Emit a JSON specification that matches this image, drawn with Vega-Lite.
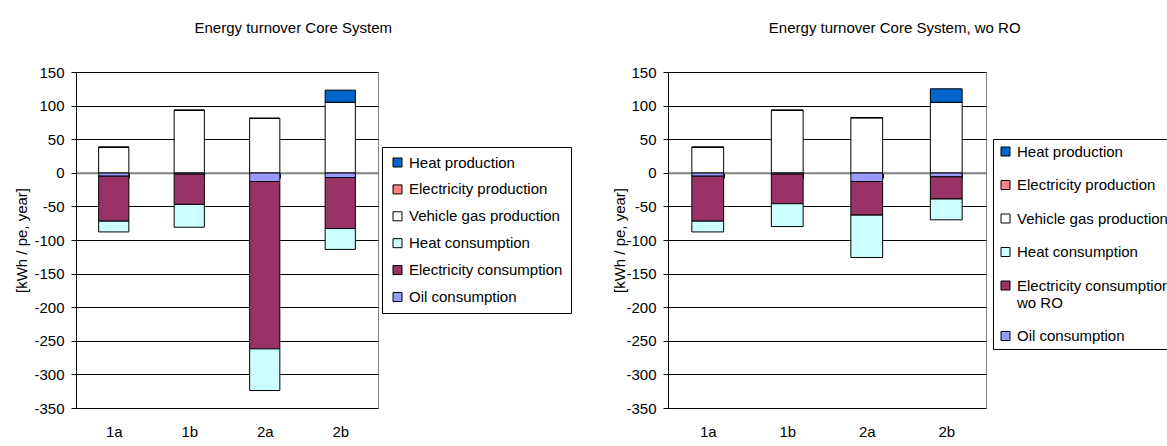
{
  "$schema": "https://vega.github.io/schema/vega-lite/v6.json",
  "padding": {"left": 14, "top": 20, "right": 0, "bottom": 0},
  "background": "white",
  "spacing": 40,
  "config": {
    "font": "Liberation Sans",
    "view": {"stroke": "#808080", "strokeWidth": 1},
    "axis": {"labelColor": "black", "titleColor": "black", "labelFontSize": 15, "titleFontSize": 15, "titleFontWeight": "normal"},
    "title": {"fontSize": 15, "fontWeight": "normal", "color": "black", "anchor": "middle", "frame": "bounds", "offset": 29},
    "legend": {"labelColor": "black", "labelFontSize": 15}
  },
  "datasets": {
    "core": [
      {"scenario": "1a", "series": "Oil consumption", "value": -5, "ord": 1},
      {"scenario": "1a", "series": "Electricity consumption", "value": -67, "ord": 2},
      {"scenario": "1a", "series": "Heat consumption", "value": -16, "ord": 3},
      {"scenario": "1a", "series": "Vehicle gas production", "value": 38, "ord": 4},
      {"scenario": "1a", "series": "Electricity production", "value": 0, "ord": 5},
      {"scenario": "1a", "series": "Heat production", "value": 0, "ord": 6},
      {"scenario": "1b", "series": "Oil consumption", "value": -2, "ord": 1},
      {"scenario": "1b", "series": "Electricity consumption", "value": -45, "ord": 2},
      {"scenario": "1b", "series": "Heat consumption", "value": -34, "ord": 3},
      {"scenario": "1b", "series": "Vehicle gas production", "value": 93, "ord": 4},
      {"scenario": "1b", "series": "Electricity production", "value": 0, "ord": 5},
      {"scenario": "1b", "series": "Heat production", "value": 0, "ord": 6},
      {"scenario": "2a", "series": "Oil consumption", "value": -13, "ord": 1},
      {"scenario": "2a", "series": "Electricity consumption", "value": -249, "ord": 2},
      {"scenario": "2a", "series": "Heat consumption", "value": -62, "ord": 3},
      {"scenario": "2a", "series": "Vehicle gas production", "value": 81, "ord": 4},
      {"scenario": "2a", "series": "Electricity production", "value": 0, "ord": 5},
      {"scenario": "2a", "series": "Heat production", "value": 0, "ord": 6},
      {"scenario": "2b", "series": "Oil consumption", "value": -7, "ord": 1},
      {"scenario": "2b", "series": "Electricity consumption", "value": -76, "ord": 2},
      {"scenario": "2b", "series": "Heat consumption", "value": -31, "ord": 3},
      {"scenario": "2b", "series": "Vehicle gas production", "value": 105, "ord": 4},
      {"scenario": "2b", "series": "Electricity production", "value": 0, "ord": 5},
      {"scenario": "2b", "series": "Heat production", "value": 18, "ord": 6}
    ],
    "woro": [
      {"scenario": "1a", "series": "Oil consumption", "value": -5, "ord": 1},
      {"scenario": "1a", "series": "Electricity consumption wo RO", "value": -67, "ord": 2},
      {"scenario": "1a", "series": "Heat consumption", "value": -16, "ord": 3},
      {"scenario": "1a", "series": "Vehicle gas production", "value": 38, "ord": 4},
      {"scenario": "1a", "series": "Electricity production", "value": 0, "ord": 5},
      {"scenario": "1a", "series": "Heat production", "value": 0, "ord": 6},
      {"scenario": "1b", "series": "Oil consumption", "value": -2, "ord": 1},
      {"scenario": "1b", "series": "Electricity consumption wo RO", "value": -44, "ord": 2},
      {"scenario": "1b", "series": "Heat consumption", "value": -34, "ord": 3},
      {"scenario": "1b", "series": "Vehicle gas production", "value": 93, "ord": 4},
      {"scenario": "1b", "series": "Electricity production", "value": 0, "ord": 5},
      {"scenario": "1b", "series": "Heat production", "value": 0, "ord": 6},
      {"scenario": "2a", "series": "Oil consumption", "value": -13, "ord": 1},
      {"scenario": "2a", "series": "Electricity consumption wo RO", "value": -50, "ord": 2},
      {"scenario": "2a", "series": "Heat consumption", "value": -63, "ord": 3},
      {"scenario": "2a", "series": "Vehicle gas production", "value": 82, "ord": 4},
      {"scenario": "2a", "series": "Electricity production", "value": 0, "ord": 5},
      {"scenario": "2a", "series": "Heat production", "value": 0, "ord": 6},
      {"scenario": "2b", "series": "Oil consumption", "value": -6, "ord": 1},
      {"scenario": "2b", "series": "Electricity consumption wo RO", "value": -33, "ord": 2},
      {"scenario": "2b", "series": "Heat consumption", "value": -31, "ord": 3},
      {"scenario": "2b", "series": "Vehicle gas production", "value": 105, "ord": 4},
      {"scenario": "2b", "series": "Electricity production", "value": 0, "ord": 5},
      {"scenario": "2b", "series": "Heat production", "value": 20, "ord": 6}
    ]
  },
  "resolve": {
    "scale": {"x": "independent", "y": "independent", "color": "independent"},
    "legend": {"color": "independent"}
  },
  "hconcat": [
    {
      "title": "Energy turnover Core System",
      "width": 302,
      "height": 336,
      "data": {"name": "core"},
      "mark": {"type": "bar", "stroke": "black", "strokeWidth": 1},
      "encoding": {
        "x": {
          "field": "scenario", "type": "nominal", "sort": ["1a", "1b", "2a", "2b"],
          "scale": {"paddingInner": 0.6, "paddingOuter": 0.3},
          "axis": {"title": null, "labelAngle": 0, "orient": "bottom", "offset": -235.2, "domain": true, "domainColor": "#808080", "domainWidth": 2, "ticks": true, "tickBand": "extent", "tickColor": "black", "tickSize": 5, "tickWidth": 1, "labelPadding": 247, "grid": false}
        },
        "y": {
          "field": "value", "type": "quantitative", "stack": "zero",
          "scale": {"domain": [-350, 150], "nice": false},
          "axis": {"title": "[kWh / pe, year]", "values": [-350, -300, -250, -200, -150, -100, -50, 0, 50, 100, 150], "labelExpr": "toString(datum.value)", "grid": true, "gridColor": "black", "gridWidth": 1, "domainColor": "black", "tickColor": "black", "tickSize": 5, "labelPadding": 7, "titlePadding": 4}
        },
        "color": {
          "field": "series", "type": "nominal",
          "scale": {
            "domain": ["Heat production", "Electricity production", "Vehicle gas production", "Heat consumption", "Electricity consumption", "Oil consumption"],
            "range": ["#0066CC", "#FF8080", "#FFFFFF", "#CCFFFF", "#993366", "#9999FF"]
          },
          "legend": {"title": null, "orient": "none", "legendX": 306, "legendY": 75, "direction": "vertical", "strokeColor": "black", "fillColor": "white", "padding": 8, "symbolType": "square", "symbolSize": 81, "symbolStrokeColor": "black", "symbolStrokeWidth": 1, "rowPadding": 10.9, "labelOffset": 4, "labelLimit": 400}
        },
        "order": {"field": "ord", "type": "quantitative"}
      }
    },
    {
      "title": "Energy turnover Core System, wo RO",
      "width": 318,
      "height": 336,
      "data": {"name": "woro"},
      "mark": {"type": "bar", "stroke": "black", "strokeWidth": 1},
      "encoding": {
        "x": {
          "field": "scenario", "type": "nominal", "sort": ["1a", "1b", "2a", "2b"],
          "scale": {"paddingInner": 0.6, "paddingOuter": 0.3},
          "axis": {"title": null, "labelAngle": 0, "orient": "bottom", "offset": -235.2, "domain": true, "domainColor": "#808080", "domainWidth": 2, "ticks": true, "tickBand": "extent", "tickColor": "black", "tickSize": 5, "tickWidth": 1, "labelPadding": 247, "grid": false}
        },
        "y": {
          "field": "value", "type": "quantitative", "stack": "zero",
          "scale": {"domain": [-350, 150], "nice": false},
          "axis": {"title": "[kWh / pe, year]", "values": [-350, -300, -250, -200, -150, -100, -50, 0, 50, 100, 150], "labelExpr": "toString(datum.value)", "grid": true, "gridColor": "black", "gridWidth": 1, "domainColor": "black", "tickColor": "black", "tickSize": 5, "labelPadding": 7, "titlePadding": -2}
        },
        "color": {
          "field": "series", "type": "nominal",
          "scale": {
            "domain": ["Heat production", "Electricity production", "Vehicle gas production", "Heat consumption", "Electricity consumption wo RO", "Oil consumption"],
            "range": ["#0066CC", "#FF8080", "#FFFFFF", "#CCFFFF", "#993366", "#9999FF"]
          },
          "legend": {"title": null, "orient": "none", "legendX": 325, "legendY": 67, "direction": "vertical", "strokeColor": "black", "fillColor": "white", "padding": 5, "symbolType": "square", "symbolSize": 81, "symbolStrokeColor": "black", "symbolStrokeWidth": 1, "rowPadding": 17.5, "labelOffset": 4, "labelLimit": 400,
            "labelExpr": "datum.label == 'Electricity consumption wo RO' ? ['Electricity consumption', 'wo RO'] : datum.label"}
        },
        "order": {"field": "ord", "type": "quantitative"}
      }
    }
  ]
}
